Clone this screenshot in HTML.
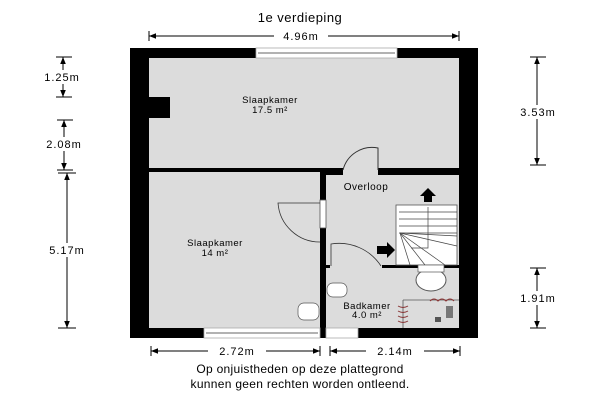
<!DOCTYPE html>
<html><head><style>
body{margin:0;background:#fff}
svg{display:block}
text{font-family:"Liberation Sans",sans-serif;fill:#000}
</style></head><body>
<svg width="600" height="400" viewBox="0 0 600 400" xmlns="http://www.w3.org/2000/svg">
<defs>
<marker id="a" viewBox="0 0 10 10" refX="10" refY="5" markerWidth="7" markerHeight="7" orient="auto-start-reverse"><path d="M0,1 L10,5 L0,9 z" fill="#000"/></marker>
</defs>
<text x="300" y="22" font-size="13" text-anchor="middle" letter-spacing="0.5">1e verdieping</text>
<!-- top dim -->
<g stroke="#000" stroke-width="1">
<line x1="149" y1="36" x2="459" y2="36" marker-start="url(#a)" marker-end="url(#a)"/>
<line x1="149" y1="31" x2="149" y2="41"/><line x1="459" y1="31" x2="459" y2="41"/>
</g>
<rect x="274" y="30" width="54" height="12" fill="#fff"/>
<text x="301" y="40" font-size="11" text-anchor="middle" letter-spacing="1">4.96m</text>
<!-- walls -->
<rect x="130" y="48" width="348" height="290" fill="#000"/>
<rect x="149" y="58" width="310" height="110" fill="#dcdcdc"/>
<rect x="149" y="172" width="171" height="156" fill="#dcdcdc"/>
<rect x="326" y="175" width="133" height="90" fill="#dcdcdc"/>
<rect x="326" y="268" width="133" height="60" fill="#dcdcdc"/>
<rect x="149" y="97" width="21" height="21" fill="#000"/>
<rect x="320" y="168" width="139" height="7" fill="#000"/>
<!-- door openings -->
<rect x="343" y="168" width="35" height="7" fill="#dcdcdc"/>
<path d="M378,170 L378,148 A30,30 0 0 0 343,170" fill="none" stroke="#333" stroke-width="1"/>
<rect x="320" y="200" width="6" height="28" fill="#fff" stroke="#555" stroke-width="0.8"/>
<path d="M320,203 L278,203 A42,42 0 0 0 320,242" fill="none" stroke="#333" stroke-width="0.8"/>
<rect x="326" y="265" width="133" height="3" fill="#000"/>
<rect x="330" y="265" width="52" height="3" fill="#dcdcdc"/>
<path d="M331,266 L331,244 A50,50 0 0 1 381,266" fill="none" stroke="#333" stroke-width="0.8"/>
<!-- windows -->
<rect x="256" y="48" width="141" height="10" fill="#fff" stroke="#aaa" stroke-width="0.8"/>
<line x1="258" y1="53" x2="395" y2="53" stroke="#666"/>
<rect x="204" y="328" width="116" height="10" fill="#fff" stroke="#aaa" stroke-width="0.8"/>
<line x1="206" y1="333" x2="318" y2="333" stroke="#666"/>
<rect x="326" y="328" width="32" height="10" fill="#fff" stroke="#aaa" stroke-width="0.8"/>
<!-- stairs -->
<rect x="396" y="205" width="61" height="60" fill="#fff" stroke="#555" stroke-width="0.8"/>
<g stroke="#444" stroke-width="0.7">
<line x1="399" y1="212" x2="457" y2="212"/><line x1="399" y1="219" x2="457" y2="219"/>
<line x1="399" y1="226" x2="457" y2="226"/><line x1="399" y1="233" x2="457" y2="233"/>
<line x1="400" y1="233" x2="457" y2="236"/><line x1="400" y1="233" x2="457" y2="246"/>
<line x1="400" y1="233" x2="445" y2="265"/><line x1="400" y1="233" x2="425" y2="265"/>
<line x1="400" y1="233" x2="410" y2="265"/>
<polyline points="411,248 428,248 428,207" fill="none"/>
</g>
<polygon points="420,196 428,188 436,196 432,196 432,202 424,202 424,196" fill="#000"/>
<polygon points="377,246 387,246 387,242 395,250 387,258 387,254 377,254" fill="#000"/>
<!-- bath fixtures -->
<ellipse cx="431" cy="280" rx="15" ry="11" fill="#fff" stroke="#555"/>
<rect x="418" y="265" width="26" height="7" fill="#fff" stroke="#555" stroke-width="0.7"/>
<rect x="327" y="283" width="20" height="14" rx="6" fill="#fff" stroke="#555" stroke-width="0.7"/>
<rect x="298" y="303" width="21" height="17" rx="6" fill="#fff" stroke="#555" stroke-width="0.7"/>
<path d="M403,300 L403,328 M403,300 L459,300" stroke="#555" fill="none" stroke-width="0.8"/>
<path d="M398,306 q5,3 10,0 M398,311 q5,3 10,0 M398,316 q5,3 10,0 M398,321 q5,3 10,0 M430,301 q4,-4 8,0 q4,-4 8,0 q4,-4 8,0" stroke="#833" fill="none"/>
<rect x="435" y="317" width="6" height="5" fill="#555"/>
<rect x="446" y="306" width="7" height="12" fill="#777"/>
<!-- labels -->
<g font-size="9.5" text-anchor="middle" letter-spacing="0.5">
<text x="270" y="103">Slaapkamer</text><text x="270" y="113">17.5 m²</text>
<text x="215" y="246">Slaapkamer</text><text x="215" y="256">14 m²</text>
<text x="366" y="190" font-size="10">Overloop</text>
<text x="367" y="309">Badkamer</text><text x="367" y="318">4.0 m²</text>
</g>
<!-- side dims -->
<g stroke="#000" stroke-width="1">
<line x1="63" y1="57" x2="63" y2="97" marker-start="url(#a)" marker-end="url(#a)"/><line x1="56" y1="57" x2="72" y2="57"/><line x1="56" y1="97" x2="72" y2="97"/>
<line x1="64" y1="120" x2="64" y2="170" marker-start="url(#a)" marker-end="url(#a)"/><line x1="57" y1="120" x2="73" y2="120"/><line x1="57" y1="170" x2="73" y2="170"/>
<line x1="67" y1="173" x2="67" y2="328" marker-start="url(#a)" marker-end="url(#a)"/><line x1="58" y1="173" x2="76" y2="173"/><line x1="58" y1="328" x2="76" y2="328"/>
<line x1="537" y1="57" x2="537" y2="165" marker-start="url(#a)" marker-end="url(#a)"/><line x1="530" y1="57" x2="546" y2="57"/><line x1="530" y1="165" x2="546" y2="165"/>
<line x1="537" y1="268" x2="537" y2="328" marker-start="url(#a)" marker-end="url(#a)"/><line x1="530" y1="268" x2="546" y2="268"/><line x1="530" y1="328" x2="546" y2="328"/>
<line x1="151" y1="351" x2="320" y2="351" marker-start="url(#a)" marker-end="url(#a)"/><line x1="151" y1="346" x2="151" y2="356"/><line x1="320" y1="346" x2="320" y2="356"/>
<line x1="330" y1="351" x2="460" y2="351" marker-start="url(#a)" marker-end="url(#a)"/><line x1="330" y1="346" x2="330" y2="356"/><line x1="460" y1="346" x2="460" y2="356"/>
</g>
<rect x="36" y="70" width="54" height="14" fill="#fff"/>
<rect x="36" y="137" width="56" height="14" fill="#fff"/>
<rect x="38" y="243" width="56" height="14" fill="#fff"/>
<rect x="510" y="105" width="56" height="14" fill="#fff"/>
<rect x="510" y="291" width="54" height="14" fill="#fff"/>
<rect x="208" y="345" width="58" height="12" fill="#fff"/>
<rect x="366" y="345" width="58" height="12" fill="#fff"/>
<g font-size="11" text-anchor="middle" letter-spacing="1">
<text x="62" y="81">1.25m</text><text x="64" y="148">2.08m</text><text x="67" y="254">5.17m</text>
<text x="538" y="116">3.53m</text><text x="538" y="302">1.91m</text>
<text x="237" y="355">2.72m</text><text x="395" y="355">2.14m</text>
</g>
<text x="300" y="373" font-size="12" text-anchor="middle" letter-spacing="0.3">Op onjuistheden op deze plattegrond</text>
<text x="300" y="388" font-size="12" text-anchor="middle" letter-spacing="0.3">kunnen geen rechten worden ontleend.</text>
</svg>
</body></html>
